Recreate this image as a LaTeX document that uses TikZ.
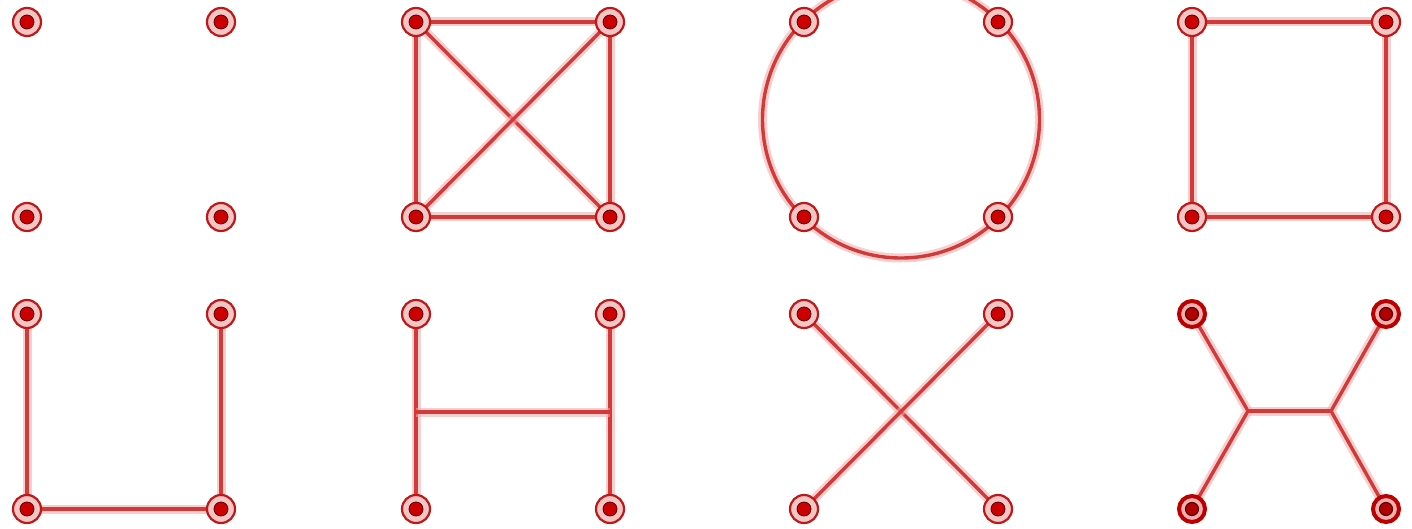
\documentclass[tikz,border=0pt]{standalone}
\usetikzlibrary{backgrounds}
\definecolor{ringred}{HTML}{C01818}
\definecolor{ringfill}{HTML}{F3C6C6}
\definecolor{dotred}{HTML}{CC0000}
\definecolor{dotedge}{HTML}{5A0000}
\definecolor{edgecore}{HTML}{D23A3A}
\definecolor{edgehalo}{HTML}{F2A8A8}
\definecolor{darkring}{HTML}{BC0000}
\definecolor{darkfill}{HTML}{F0B0B0}
\definecolor{darkdot}{HTML}{B00000}
\tikzset{
  ring/.style={circle, draw=ringred, fill=ringfill, line width=2.2pt, minimum size=28pt, inner sep=0pt},
  vdot/.style={circle, draw=dotedge, fill=dotred, line width=0.8pt, minimum size=14pt, inner sep=0pt},
  darkringst/.style={circle, draw=darkring, fill=darkfill, line width=4pt, minimum size=26pt, inner sep=0pt},
  darkdotst/.style={circle, draw=dotedge, fill=darkdot, line width=1.2pt, minimum size=13pt, inner sep=0pt},
  link/.style={draw=edgecore, line width=3.4pt, preaction={draw=edgehalo, line width=9pt, opacity=0.55}},
  junc/.style={inner sep=0pt, minimum size=0pt},
}
\newcommand\vtx[3]{\node[ring] (#1) at (#2,#3) {}; \node[vdot] (#1d) at (#1.center) {};}
\newcommand\dvtx[3]{\node[darkringst] (#1) at (#2,#3) {}; \node[darkdotst] (#1d) at (#1.center) {};}
\begin{document}
\begin{tikzpicture}[x=1pt,y=-1pt]
\useasboundingbox (0,0) rectangle (1412,529);
\clip (0,0) rectangle (1412,529);
% panel 1
\vtx{pAa}{27}{22}\vtx{pAb}{221}{22}\vtx{pAc}{27}{217}\vtx{pAd}{221}{217}
% panel 2
\vtx{pBa}{416}{22}\vtx{pBb}{610}{22}\vtx{pBc}{416}{217}\vtx{pBd}{610}{217}
% panel 3
\vtx{pCa}{804}{22}\vtx{pCb}{998}{22}\vtx{pCc}{804}{217}\vtx{pCd}{998}{217}
\coordinate (cc) at (901,119.5);
% panel 4
\vtx{pDa}{1192}{22}\vtx{pDb}{1386}{22}\vtx{pDc}{1192}{217}\vtx{pDd}{1386}{217}
% panel 5
\vtx{pEa}{27}{314}\vtx{pEb}{221}{314}\vtx{pEc}{27}{509}\vtx{pEd}{221}{509}
% panel 6
\vtx{pFa}{416}{314}\vtx{pFb}{610}{314}\vtx{pFc}{416}{509}\vtx{pFd}{610}{509}
\coordinate (hL) at (416,412);\coordinate (hR) at (610,412);
% panel 7
\vtx{pGa}{804}{314}\vtx{pGb}{998}{314}\vtx{pGc}{804}{509}\vtx{pGd}{998}{509}
% panel 8
\dvtx{pHa}{1192}{314}\dvtx{pHb}{1386}{314}\dvtx{pHc}{1192}{509}\dvtx{pHd}{1386}{509}
\node[junc] (jL) at (1248,411) {};\node[junc] (jR) at (1331,411) {};
\begin{scope}[on background layer]
% panel 2
\draw[link] (pBa.center) -- (pBb.center) -- (pBd.center) -- (pBc.center) -- cycle;
\draw[link] (pBa.center) -- (pBd.center);
\draw[link] (pBb.center) -- (pBc.center);
% panel 3
\draw[link] (cc) circle[radius=138.5];
% panel 4
\draw[link] (pDa.center) -- (pDb.center) -- (pDd.center) -- (pDc.center) -- cycle;
% panel 5
\draw[link] (pEa.center) -- (pEc.center) -- (pEd.center) -- (pEb.center);
% panel 6
\draw[link] (pFa.center) -- (pFc.center);
\draw[link] (pFb.center) -- (pFd.center);
\draw[link] (hL) -- (hR);
% panel 7
\draw[link] (pGa.center) -- (pGd.center);
\draw[link] (pGb.center) -- (pGc.center);
% panel 8
\draw[link] (pHa.center) -- (jL.center) -- (pHc.center);
\draw[link] (pHb.center) -- (jR.center) -- (pHd.center);
\draw[link] (jL.center) -- (jR.center);
\end{scope}
\end{tikzpicture}
\end{document}
